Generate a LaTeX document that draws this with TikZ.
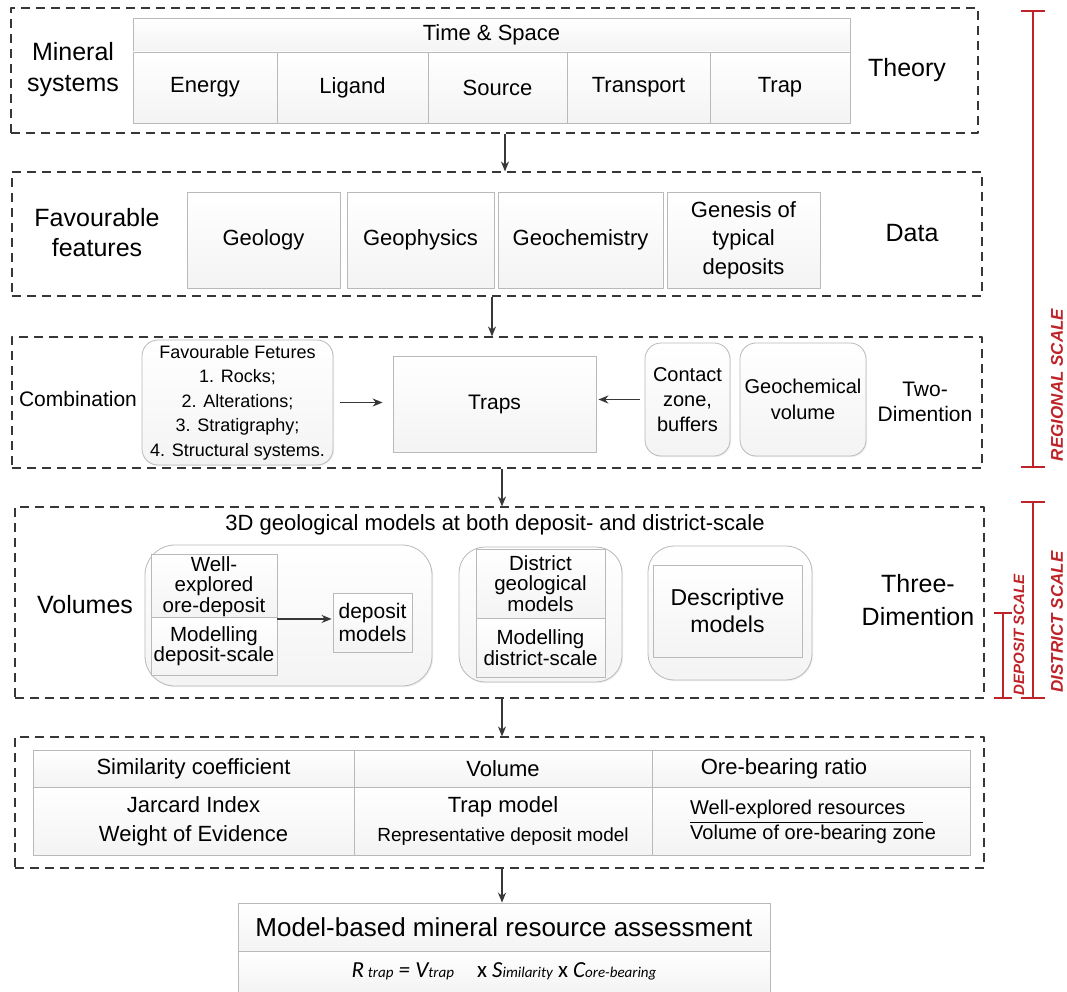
\documentclass[tikz,border=0pt]{standalone}
\usepackage{fontspec}
\setmainfont{Liberation Sans}
\newfontfamily\formulafont{Carlito}
\usetikzlibrary{arrows.meta,shadows}
\definecolor{scalered}{RGB}{190,35,40}
\definecolor{framegray}{RGB}{55,55,55}
\newcommand{\fs}[2]{\fontsize{#1}{#2}\selectfont}
\newcommand{\sub}[1]{{\fs{15}{15}#1}}

\begin{document}
\begin{tikzpicture}[x=1pt, y=-1pt, line join=round, >={Stealth[length=10pt,width=8pt]},
	panel/.style={draw=framegray, line width=1.1pt, dash pattern=on 9pt off 6pt},
	cell/.style={draw=gray!55, line width=0.8pt, top color=white, bottom color=gray!9, inner sep=2pt, align=center,
		drop shadow={opacity=0.12, shadow xshift=1.2pt, shadow yshift=-1.2pt}},
	roundcell/.style={cell, rounded corners=16pt},
	arr/.style={->, draw=framegray, line width=1.5pt},
	scalebar/.style={draw=scalered, line width=1.6pt},
	scalelabel/.style={text=scalered, inner sep=0pt, font=\bfseries\itshape\fs{17}{17}, rotate=90}]
	\useasboundingbox (0,0) rectangle (1067,992);
	
	% panels
	\node[panel, minimum width=967, minimum height=125] (theorybox) at (494.5,70.5) {};
	\node[panel, minimum width=970, minimum height=124] (databox) at (497,234) {};
	\node[panel, minimum width=970, minimum height=131] (trapbox) at (497,402.5) {};
	\node[panel, minimum width=969, minimum height=191] (volbox) at (499.5,602.5) {};
	\node[panel, minimum width=969, minimum height=131] (ratiobox) at (499.5,802.5) {};
	
	% theory
	\node[align=center, font=\fs{25}{31}] (minsys) at (73,70) {Mineral\\systems};
	\node[font=\fs{25}{30}] (theory) at (907,70) {Theory};
	\begin{scope}[every node/.style={cell, font=\fs{22}{26}}]
		\node[minimum width=717, minimum height=34] (timespace) at (491.5,35) {Time \& Space};
		\node[minimum width=144, minimum height=71] (energy) at (205,87.5) {Energy};
		\node[minimum width=151, minimum height=71] (ligand) at (352.5,87.5) {Ligand};
		\node[minimum width=139, minimum height=71] (source) at (497.5,87.5) {Source};
		\node[minimum width=143, minimum height=71] (transport) at (638.5,87.5) {Transport};
		\node[minimum width=140, minimum height=71] (trap) at (780,87.5) {Trap};
	\end{scope}
	
	% data
	\node[align=center, font=\fs{25}{30}] (favfeat) at (97,233) {Favourable\\features};
	\node[font=\fs{25}{30}] (data) at (912,233) {Data};
	\begin{scope}[every node/.style={cell, font=\fs{22}{28.5}, minimum height=96}]
		\node[minimum width=153] (geology) at (263.5,240) {Geology};
		\node[minimum width=147] (geophys) at (420.5,240) {Geophysics};
		\node[minimum width=165] (geochem) at (580.5,240) {Geochemistry};
		\node[minimum width=153] (genesis) at (743.5,240) {Genesis of\\typical\\deposits};
	\end{scope}
	
	% combination
	\node[font=\fs{21}{25}] (combination) at (78,399) {Combination};
	\node[align=center, font=\fs{21}{25}] (twodim) at (925,402) {Two-\\Dimention};
	\node[roundcell, minimum width=191, minimum height=125, font=\fs{18}{24.5}] (favlist) at (237.5,402.5)
		{Favourable Fetures\\1. Rocks;\\2. Alterations;\\3. Stratigraphy;\\4. Structural systems.};
	\node[cell, minimum width=203, minimum height=96, font=\fs{21}{25}] (traps) at (494.5,404) {Traps};
	\node[roundcell, minimum width=85, minimum height=113, font=\fs{20}{25}] (contact) at (687.5,399.5) {Contact\\zone,\\buffers};
	\node[roundcell, minimum width=126, minimum height=113, font=\fs{20}{26}] (geovol) at (803,399.5) {Geochemical\\volume};
	\draw[arr] ([xshift=7pt]favlist.east) -- ([xshift=-10pt]favlist.east -| traps.west);
	\draw[arr] ([xshift=-5pt]contact.west) -- ([xshift=2pt]contact.west -| traps.east);
	
	% volumes
	\node[font=\fs{22}{26}] (title3d) at (495,525) {3D geological models at both deposit- and district-scale};
	\node[font=\fs{25}{30}] (volumes) at (85,605) {Volumes};
	\node[align=center, font=\fs{25}{33}] (threedim) at (918,600) {Three-\\Dimention};
	\node[roundcell, rounded corners=30pt, minimum width=287, minimum height=141] (depgroup) at (288.5,615.5) {};
	\node[roundcell, rounded corners=26pt, minimum width=163, minimum height=135] (distgroup) at (540.5,614.5) {};
	\node[roundcell, rounded corners=26pt, minimum width=164, minimum height=134] (descgroup) at (730,613) {};
	\begin{scope}[every node/.style={cell, font=\fs{20.5}{20.5}}]
		\node[minimum width=126, minimum height=61] (wellexp) at (214,586.5) {Well-\\explored\\ore-deposit};
		\node[minimum width=126, minimum height=58] (moddep) at (214,646) {Modelling\\deposit-scale};
		\node[minimum width=79, minimum height=59, font=\fs{21}{23}] (depmod) at (372.5,622.5) {deposit\\models};
		\node[minimum width=129, minimum height=69] (distgeo) at (540.5,583.5) {District\\geological\\models};
		\node[minimum width=129, minimum height=59] (moddist) at (540.5,647.5) {Modelling\\district-scale};
		\node[minimum width=149, minimum height=92, font=\fs{23}{27}] (descmod) at (727.5,611) {Descriptive\\models};
	\end{scope}
	\draw[arr] (wellexp.south east) -- ([xshift=-1pt]wellexp.south east -| depmod.west);
	
	% ratio table
	\begin{scope}[every node/.style={cell, font=\fs{22}{29}}]
		\node[minimum width=321, minimum height=37] (simhead) at (193.5,768.5) {Similarity coefficient};
		\node[minimum width=298, minimum height=37] (volhead) at (503,768.5) {Volume};
		\node[minimum width=318, minimum height=37] (orehead) at (811,768.5) {\hspace*{-54pt}Ore-bearing ratio};
		\node[minimum width=321, minimum height=68] (simbody) at (193.5,821) {Jarcard Index\\Weight of Evidence};
		\node[minimum width=298, minimum height=68] (volbody) at (503,821) {Trap model\\{\fs{19}{19}Representative deposit model}};
		\node[minimum width=318, minimum height=68] (orebody) at (811,821) {};
	\end{scope}
	\node[anchor=west, font=\fs{20}{20}, inner sep=0pt] (wellres) at (690,809) {Well-explored resources};
	\node[anchor=west, font=\fs{20}{20}, inner sep=0pt] (volzone) at (690,834) {Volume of ore-bearing zone};
	\draw[line width=1pt] ([yshift=-4pt]wellres.south west) -- ++(233,0);
	
	% assessment
	\node[cell, minimum width=532, minimum height=48, font=\fs{26}{30}] (assess) at (504,927) {Model-based mineral resource assessment};
	\node[cell, minimum width=532, minimum height=41] (formula) at (504,971.5)
		{\formulafont\itshape\fs{23}{23}R\,\sub{trap} = V\sub{trap}\quad{\upshape x} S\sub{imilarity} {\upshape x} C\sub{ore-bearing}};
	
	% flow arrows
	\coordinate (a1) at (505,0);
	\coordinate (a2) at (492,0);
	\coordinate (a3) at (502,0);
	\draw[arr] (theorybox.south -| a1) -- (databox.north -| a1);
	\draw[arr] (databox.south -| a2) -- (trapbox.north -| a2);
	\draw[arr] (trapbox.south -| a3) -- (volbox.north -| a3);
	\draw[arr] (volbox.south -| a3) -- (ratiobox.north -| a3);
	\draw[arr] (ratiobox.south -| a3) -- (assess.north -| a3);
	
	% scales
	\draw[scalebar, {Bar[width=24pt]}-{Bar[width=24pt]}] (1033,10) -- (1033,468);
	\draw[scalebar, {Bar[width=24pt]}-{Bar[width=24pt]}] (1033,501) -- (1033,699);
	\draw[scalebar, {Bar[width=18pt]}-{Bar[width=18pt]}] (1003,612) -- (1003,699);
	\node[scalelabel] (regional) at (1057,385) {REGIONAL SCALE};
	\node[scalelabel] (district) at (1057,622) {DISTRICT SCALE};
	\node[scalelabel, font=\bfseries\itshape\fs{15}{15}] (deposit) at (1019,635) {DEPOSIT SCALE};
\end{tikzpicture}
\end{document}
